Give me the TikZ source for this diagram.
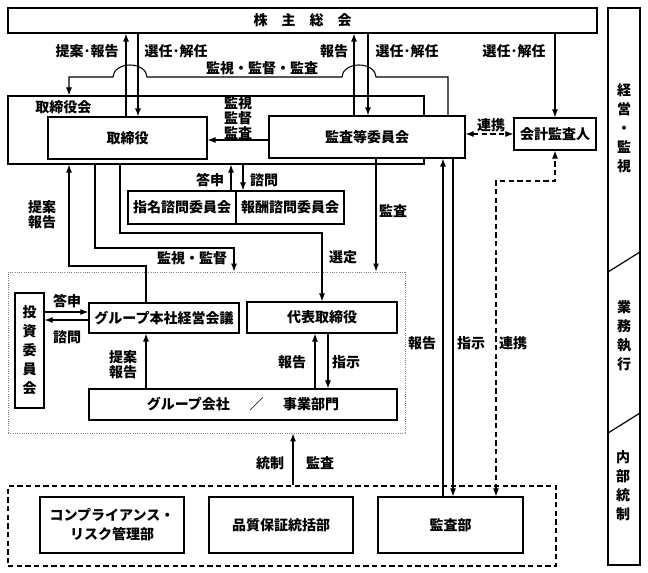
\documentclass[tikz,border=0pt]{standalone}
\usepackage{fontspec}
\setmainfont{Noto Sans CJK JP}
\usetikzlibrary{arrows.meta}

\tikzset{
  blk/.style={draw, line width=0.9pt, fill=white, inner sep=0pt, align=center},
  tam/.style 2 args={minimum width=#1*0.75pt, minimum height=#2*0.75pt},
  arr/.style={-{Latex[length=6pt,width=4.5pt]}, line width=0.8pt},
  dblarr/.style={{Latex[length=6pt,width=4.5pt]}-{Latex[length=6pt,width=4.5pt]}, line width=0.8pt, dash pattern=on 4pt off 2.5pt},
  lbl/.style={inner sep=0pt, align=center},
  pila/.style={lbl, font=\fontsize{10.5}{11.5}\selectfont\bfseries},
  vert/.style={lbl, font=\fontsize{10.5}{14.3}\selectfont\bfseries}
}

\begin{document}
\begin{tikzpicture}[x=0.75pt, y=-0.75pt, font=\fontsize{10.5}{13}\selectfont\bfseries]
    \useasboundingbox (0,0) rectangle (648,573);

    % Columna derecha
    \draw[line width=0.9pt] (608,8) rectangle (640,565);
    \draw[line width=0.9pt] (608,272) -- (640,252);
    \draw[line width=0.9pt] (608,433) -- (640,413);
    \node[vert] (gestion) at (624,128) {経\\営\\・\\監\\視};
    \node[vert] (ejecucion) at (624,336) {業\\務\\執\\行};
    \node[vert] (control) at (623,486) {内\\部\\統\\制};

    % Cajas principales
    \node[blk, tam={589}{25}] (junta) at (302.5,20.5) {株\hspace{1em}主\hspace{1em}総\hspace{1em}会};
    \node[blk, tam={416}{68}] (consejo) at (216,130) {};
    \node[lbl, anchor=west] (consejolbl) at (35,107) {取締役会};
    \node[blk, tam={159}{42}] (directores) at (127.5,138) {取締役};
    \node[blk, tam={196}{42}] (comite) at (367,137) {監査等委員会};
    \node[blk, tam={82}{32}] (auditor) at (555,134) {会計監査人};
    \node[blk, tam={108}{33}] (nombra) at (182,207.5) {指名諮問委員会};
    \node[blk, tam={108}{33}] (remun) at (290,207.5) {報酬諮問委員会};

    % Ejecucion
    \node[draw=gray, densely dotted, line width=0.7pt, inner sep=0pt, tam={397}{161}] (ejec) at (206.5,352.5) {};
    \node[blk, vert, draw, tam={29}{115}] (inversion) at (29.5,350.5) {投\\資\\委\\員\\会};
    \node[blk, tam={150}{30}] (sede) at (164,318) {グループ本社経営会議};
    \node[blk, tam={150}{31}] (repre) at (322,317.5) {代表取締役};
    \node[blk, tam={308}{31}] (grupo) at (243,404.5) {グループ会社\hspace{1.4em}／\hspace{1.4em}事業部門};

    % Control interno
    \node[draw, line width=0.8pt, dash pattern=on 4pt off 2.5pt, inner sep=0pt, tam={548}{80}] (interno) at (282,526) {};
    \node[blk, font=\fontsize{10.5}{14.3}\selectfont\bfseries, tam={144}{56}] (cumpli) at (112,525) {コンプライアンス・\\リスク管理部};
    \node[blk, tam={144}{56}] (calidad) at (281,525) {品質保証統括部};
    \node[blk, tam={145}{56}] (auditoria) at (450.5,525) {監査部};

    % Junta de accionistas
    \draw[arr] (directores.north -| 126,0) -- (junta.south -| 126,0);
    \draw[arr] (junta.south -| 138,0) -- (directores.north -| 138,0);
    \draw[arr] (comite.north -| 354,0) -- (junta.south -| 354,0);
    \draw[arr] (junta.south -| 368,0) -- (comite.north -| 368,0);
    \draw[arr] (junta.south -| auditor.north) -- (auditor.north);
    \node[lbl] (l1) at (87,51) {提案･報告};
    \node[lbl] (l2) at (176,51) {選任･解任};
    \node[lbl] (l3) at (334,51) {報告};
    \node[lbl] (l4) at (407,51) {選任･解任};
    \node[lbl] (l5) at (514,51) {選任･解任};

    % Supervision con saltos
    \draw[arr] (comite.north -| 448,0) -- (448,77) -- (376,77)
        arc[start angle=0, end angle=-180, x radius=17, y radius=12] -- (147,77)
        arc[start angle=0, end angle=-180, x radius=17, y radius=12] -- (69,77)
        -- (consejo.north -| 69,0);
    \node[lbl] (l6) at (262,68) {監視・監督・監査};

    \draw[arr] (comite.west |- 0,140) -- (directores.east |- 0,140);
    \node[pila] (l7) at (238,118) {監視\\監督\\監査};
    \draw[dblarr] (comite.east |- auditor.west) -- (auditor.west);
    \node[lbl] (l8) at (491,125) {連携};

    % Comites consultivos
    \draw[arr] (nombra.north -| 231,0) -- (consejo.south -| 231,0);
    \draw[arr] (consejo.south -| 243,0) -- (remun.north -| 243,0);
    \node[lbl] (l9) at (210,180) {答申};
    \node[lbl] (l10) at (264,180) {諮問};

    % Del consejo hacia la ejecucion
    \draw[arr] (consejo.south -| 95,0) |- (234,248) -- (ejec.north -| 234,0);
    \draw[arr] (consejo.south -| 120,0) |- (322,233) -- (repre.north -| 322,0);
    \draw[arr] (sede.north -| 146,0) |- (69,266) -- (consejo.south -| 69,0);
    \draw[arr] (comite.south -| 376,0) -- (ejec.north -| 376,0);
    \node[pila] (l11) at (42,215) {提案\\報告};
    \node[lbl] (l12) at (393,211) {監査};
    \node[lbl] (l13) at (192,258) {監視・監督};
    \node[lbl] (l14) at (343,257) {選定};

    % Auditoria interna
    \draw[arr] (auditoria.north -| 443,0) -- (comite.south -| 443,0);
    \draw[arr] (comite.south -| 453,0) -- (auditoria.north -| 453,0);
    \draw[dblarr] (auditoria.north -| 496,0) |- (555,181) -- (auditor.south);
    \node[lbl] (l15) at (422,343) {報告};
    \node[lbl] (l16) at (471,343) {指示};
    \node[lbl] (l17) at (513,343) {連携};

    % Dentro de la ejecucion
    \draw[arr] (inversion.east |- 0,312) -- (sede.west |- 0,312);
    \draw[arr] (sede.west |- 0,320) -- (inversion.east |- 0,320);
    \node[lbl] (l18) at (67,301) {答申};
    \node[lbl] (l19) at (67,337) {諮問};
    \draw[arr] (grupo.north -| 146,0) -- (sede.south -| 146,0);
    \draw[arr] (grupo.north -| 315,0) -- (repre.south -| 315,0);
    \draw[arr] (repre.south -| 328,0) -- (grupo.north -| 328,0);
    \node[pila] (l20) at (123,365) {提案\\報告};
    \node[lbl] (l21) at (292,362) {報告};
    \node[lbl] (l22) at (346,362) {指示};

    % Control interno
    \draw[arr] (interno.north -| 293,0) -- (ejec.south -| 293,0);
    \node[lbl] (l23) at (270,463) {統制};
    \node[lbl] (l24) at (320,463) {監査};
\end{tikzpicture}
\end{document}
